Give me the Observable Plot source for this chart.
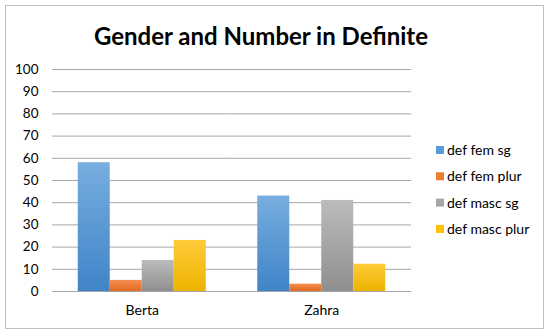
<!DOCTYPE html>
<html><head><meta charset="utf-8">
<script src="https://cdn.jsdelivr.net/npm/d3@7"></script>
<script src="https://cdn.jsdelivr.net/npm/@observablehq/plot@0.6"></script>
<style>
html,body{margin:0;padding:0;background:#fff;}
#chart{width:550px;height:335px;}
</style>
</head><body><div id="chart"></div>
<script>
const names = ["Berta", "Zahra"];
const series = ["def fem sg", "def fem plur", "def masc sg", "def masc plur"];
const bertaValues = [58, 5, 14, 23];
const zahraValues = [43, 3.3, 41, 12.3];
const yTicks = [0, 10, 20, 30, 40, 50, 60, 70, 80, 90, 100];
const colors = ["#5B9BD5", "#ED7D31", "#A5A5A5", "#FFC000"];
const gradTop = ["#78aee0", "#f58e4e", "#bcbcbc", "#ffcb3a"];
const gradBottom = ["#3f84c8", "#e06a22", "#8f8f8f", "#eeb300"];
const title = "Gender and Number in Definite";

const data = [];
names.forEach((n, i) => {
  const vals = i === 0 ? bertaValues : zahraValues;
  series.forEach((s, j) => data.push({name: n, series: s, value: vals[j]}));
});

const font = "Lato, 'Open Sans', sans-serif";
const plot = Plot.plot({
  width: 550,
  height: 335,
  marginLeft: 52,
  marginRight: 139,
  marginTop: 69,
  marginBottom: 44,
  style: {fontFamily: font, fontSize: "13.5px", color: "#000", background: "transparent"},
  fx: {domain: names, padding: 0, round: false, label: null},
  x: {domain: series, paddingInner: 0, paddingOuter: 0.805, round: false, axis: null},
  y: {domain: [0, 100], axis: null},
  marks: [
    Plot.ruleY(yTicks, {stroke: "#a6a6a6", strokeWidth: 1, strokeOpacity: 1}),
    Plot.ruleX([0], {frameAnchor: "left", stroke: "#a6a6a6", facet: "exclude"}),
    Plot.barY(data, {fx: "name", x: "series", y: "value", inset: 0,
      fill: d => "url(#g" + series.indexOf(d.series) + ")"}),
    Plot.axisY({ticks: yTicks, tickSize: 0, tickPadding: 14, label: null, fontSize: 13.5}),
    Plot.axisFx({anchor: "bottom", tickSize: 0, tickPadding: 14, label: null, fontSize: 14})
  ]
});
document.getElementById("chart").appendChild(plot);

const svg = d3.select(plot);
const defs = svg.insert("defs", ":first-child");
series.forEach((s, j) => {
  const g = defs.append("linearGradient").attr("id", "g" + j)
    .attr("x1", 0).attr("y1", 0).attr("x2", 0).attr("y2", 1)
    .attr("gradientUnits", "objectBoundingBox");
  g.append("stop").attr("offset", "0%").attr("stop-color", gradTop[j]);
  g.append("stop").attr("offset", "100%").attr("stop-color", gradBottom[j]);
});

// border
svg.insert("rect", "defs + *").attr("x", 5.5).attr("y", 5.5).attr("width", 538).attr("height", 323)
  .attr("fill", "#fff").attr("stroke", "#bfbfbf").attr("stroke-width", 1);

// title
svg.append("text").attr("x", 261).attr("y", 45).attr("text-anchor", "middle")
  .attr("font-family", font).attr("font-weight", "bold").attr("font-size", 24)
  .attr("fill", "#000").text(title);

// legend
const leg = svg.append("g").attr("text-anchor", "start");
series.forEach((s, j) => {
  const y = 150 + j * 26.3;
  leg.append("rect").attr("x", 436).attr("y", y - 4).attr("width", 8).attr("height", 8).attr("fill", colors[j]);
  leg.append("text").attr("x", 447).attr("y", y).attr("dy", "0.35em").attr("text-anchor", "start")
    .attr("font-family", font).attr("font-size", 14).attr("fill", "#000").text(s);
});
</script>
</body></html>
